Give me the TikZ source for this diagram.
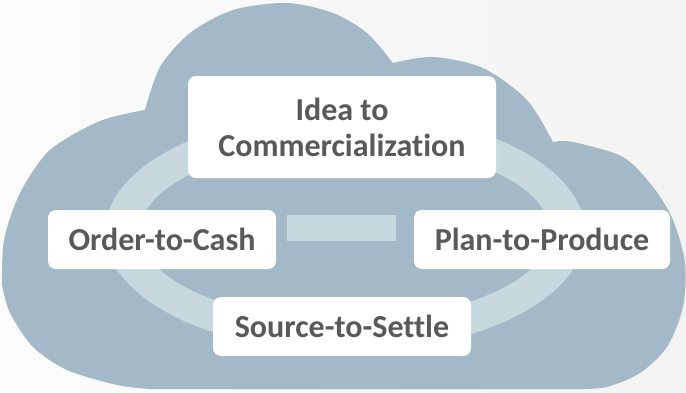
\documentclass[tikz,border=0pt]{standalone}
\usepackage{fontspec}
\setmainfont{Carlito}[Ligatures=NoCommon]
\usepackage{tikz}
\usetikzlibrary{positioning}
\definecolor{cloudblue}{HTML}{A3B9C7}
\definecolor{ringblue}{HTML}{C7D9DF}
\definecolor{textgray}{HTML}{595959}
\definecolor{backgray}{HTML}{F3F3F3}

\begin{document}
\begin{tikzpicture}[line cap=round,line join=round,x=0.5pt,y=-0.5pt,
	procbox/.style={fill=white,rounded corners=4pt,text=textgray,align=center,inner sep=0pt,
		font=\fontsize{16}{18}\selectfont\bfseries},
	midbar/.style={fill=ringblue,inner sep=0pt,minimum width=54.5pt,minimum height=13pt}]
	\useasboundingbox (0,0) rectangle (686,392);
	\fill[left color=white!70!backgray,right color=backgray] (0,0) rectangle (686,392);
	% cloud
	\fill[cloudblue] plot[smooth] coordinates {(2,285) (4,240) (20,193) (50,150) (100,121) (145,110)}
		-- plot[smooth] coordinates {(145,110) (160,67) (190,33) (233,10) (287,3) (333,13) (367,33) (393,63)}
		-- plot[smooth] coordinates {(393,63) (433,57) (483,68) (527,100) (553,142)}
		-- plot[smooth] coordinates {(553,142) (573,142) (623,157) (653,187) (673,220) (685,263) (683,307) (667,347) (640,373) (607,387) (580,389)}
		-- (150,389)
		-- plot[smooth] coordinates {(150,389) (117,385) (67,370) (33,347) (10,313) (2,285)} -- cycle;
	% ring
	\fill[ringblue,even odd rule] (345,232) ellipse [x radius=240,y radius=120]
		(345,232) ellipse [x radius=205,y radius=88];
	\node[midbar] (mid) at (341.5,228) {};
	% processes
	\node[procbox,minimum width=154pt,minimum height=51pt] (idea) at (342,127) {Idea to\\Commercialization};
	\node[procbox,minimum width=114pt,minimum height=29.5pt] (order) at (162,239.5) {Order-to-Cash};
	\node[procbox,minimum width=128pt,minimum height=29.5pt] (plan) at (542,239.5) {Plan-to-Produce};
	\node[procbox,minimum width=129pt,minimum height=29.5pt] (source) at (342,326.5) {Source-to-Settle};
\end{tikzpicture}
\end{document}
